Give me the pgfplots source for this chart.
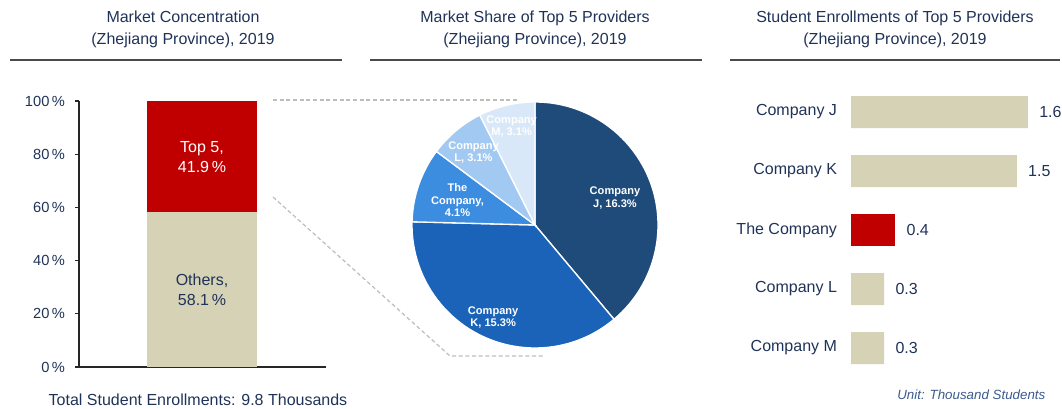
\documentclass[border=0pt]{standalone}
\usepackage{fontspec}
\setmainfont{Liberation Sans}
\usepackage{pgfplots}
\pgfplotsset{compat=1.18}
\definecolor{TxtNavy}{HTML}{1F3358}
\definecolor{RuleGray}{HTML}{4A4A4A}
\definecolor{Tan}{HTML}{D5D2B5}
\definecolor{RedC}{HTML}{C00000}
\definecolor{PieJ}{HTML}{1F4B7A}
\definecolor{PieK}{HTML}{1A63B8}
\definecolor{PieT}{HTML}{3C8DE0}
\definecolor{PieL}{HTML}{A2C9F2}
\definecolor{PieM}{HTML}{D8E8F8}
\definecolor{UnitBlue}{HTML}{3B5A8C}
\definecolor{DashGray}{HTML}{BDBDBD}

% market shares of the top 5 providers (%)
\def\sJ{16.3}
\def\sK{15.3}
\def\sT{4.1}
\def\sL{3.1}
\def\sM{3.1}

\begin{document}
\begin{tikzpicture}[x=0.75pt,y=0.75pt]
\useasboundingbox (0,0) rectangle (1062,408);
\coordinate (p1) at (79,41);
\coordinate (p2) at (535,183);
\coordinate (p3) at (851,30.5);

% titles and rules
\tikzset{ttl/.style={align=center,font=\fontsize{12}{16.5}\selectfont,text=TxtNavy}}
\node[ttl] at (183,379) {Market Concentration\\(Zhejiang Province), 2019};
\node[ttl] at (535,379) {Market Share of Top 5 Providers\\(Zhejiang Province), 2019};
\node[ttl] at (895,379) {Student Enrollments of Top 5 Providers\\(Zhejiang Province), 2019};
\draw[RuleGray,line width=1.8pt] (10,348) -- (342,348);
\draw[RuleGray,line width=1.8pt] (370,348) -- (702,348);
\draw[RuleGray,line width=1.8pt] (730,348) -- (1060,348);

% connectors
\draw[DashGray,line width=0.9pt,dash pattern=on 3pt off 2pt] (273,308) -- (517,308);
\draw[DashGray,line width=0.9pt,dash pattern=on 3pt off 2pt] (273,211) -- (450,52) -- (545,52);

% panel 1: stacked bar
\begin{axis}[name=ax1,at={(p1)},anchor=south west,scale only axis,
  width=185.25pt,height=199.5pt,
  xmin=0,xmax=247,ymin=0,ymax=100,
  axis lines=left,axis line style={-,line width=1.2pt,black!85},
  xtick=\empty,ytick={0,20,...,100},
  yticklabel={\pgfmathprintnumber{\tick}\,\%},
  tick align=outside,major tick length=3pt,
  ytick style={black!85,line width=0.8pt},
  yticklabel style={font=\fontsize{11}{13}\selectfont,text=TxtNavy,xshift=-4pt},
  /pgf/number format/assume math mode=true,
  ybar stacked,bar width=82.5pt,clip=false]
\addplot[fill=Tan,draw=none] coordinates {(123,58.1)};
\addplot[fill=RedC,draw=none] coordinates {(123,41.9)};
\end{axis}
\node[align=center,text=TxtNavy,font=\fontsize{12}{15}\selectfont] at (202,118) {Others,\\58.1\,\%};
\node[align=center,text=white,font=\fontsize{12}{15}\selectfont] at (202,251) {Top 5,\\41.9\,\%};
\node[font=\fontsize{12}{14}\selectfont,text=TxtNavy] at (198,8) {Total Student Enrollments: 9.8 Thousands};

% panel 2: pie
\pgfmathsetmacro\tot{\sJ+\sK+\sT+\sL+\sM}
\pgfmathsetmacro\aA{90}
\pgfmathsetmacro\aB{\aA-360*\sJ/\tot}
\pgfmathsetmacro\aC{\aB-360*\sK/\tot}
\pgfmathsetmacro\aD{\aC-360*\sT/\tot}
\pgfmathsetmacro\aE{\aD-360*\sL/\tot}
\pgfmathsetmacro\aF{\aE-360*\sM/\tot}
\begin{axis}[at={(p2)},anchor=center,scale only axis,
  width=184.5pt,height=184.5pt,xmin=-1,xmax=1,ymin=-1,ymax=1,
  hide axis,clip=false]
\filldraw[fill=PieJ,draw=white,line width=1pt] (axis cs:0,0) -- ++(\aA:92.25pt) arc[start angle=\aA,end angle=\aB,radius=92.25pt] -- cycle;
\filldraw[fill=PieK,draw=white,line width=1pt] (axis cs:0,0) -- ++(\aB:92.25pt) arc[start angle=\aB,end angle=\aC,radius=92.25pt] -- cycle;
\filldraw[fill=PieT,draw=white,line width=1pt] (axis cs:0,0) -- ++(\aC:92.25pt) arc[start angle=\aC,end angle=\aD,radius=92.25pt] -- cycle;
\filldraw[fill=PieL,draw=white,line width=1pt] (axis cs:0,0) -- ++(\aD:92.25pt) arc[start angle=\aD,end angle=\aE,radius=92.25pt] -- cycle;
\filldraw[fill=PieM,draw=white,line width=1pt] (axis cs:0,0) -- ++(\aE:92.25pt) arc[start angle=\aE,end angle=\aF,radius=92.25pt] -- cycle;
\tikzset{pl/.style={align=center,text=white,font=\fontsize{8.3}{9.3}\selectfont\bfseries}}
\node[pl] at (axis cs:0.65,0.22) {Company\\J, 16.3\%};
\node[pl] at (axis cs:-0.34,-0.75) {Company\\K, 15.3\%};
\node[pl] at (axis cs:-0.63,0.20) {The\\Company,\\4.1\%};
\node[pl] at (axis cs:-0.50,0.59) {Company\\L, 3.1\%};
\node[pl] at (axis cs:-0.19,0.80) {Company\\M, 3.1\%};
\end{axis}

% panel 3: horizontal bars
\begin{axis}[at={(p3)},anchor=south west,scale only axis,
  width=149.25pt,height=221.25pt,
  xmin=0,xmax=1.8,ymin=-0.5,ymax=4.5,
  xbar,bar shift=0pt,bar width=24pt,
  axis lines=left,axis line style={draw=none},
  xtick=\empty,ytick={0,1,2,3,4},
  yticklabels={Company M,Company L,The Company,Company K,Company J},
  major tick length=0pt,
  yticklabel style={font=\fontsize{12}{14}\selectfont,text=TxtNavy,xshift=-7pt},
  nodes near coords,
  every node near coord/.append style={font=\fontsize{12}{14}\selectfont,text=TxtNavy,xshift=5pt},
  /pgf/number format/.cd,fixed,fixed zerofill,precision=1,assume math mode=true,
  /pgfplots/.cd,clip=false]
\addplot[fill=Tan,draw=none] coordinates {(1.6,4) (1.5,3) (0.3,1) (0.3,0)};
\addplot[fill=RedC,draw=none] coordinates {(0.4,2)};
\end{axis}
\node[anchor=east,font=\itshape\fontsize{10}{12}\selectfont,text=UnitBlue] at (1050,13) {Unit: Thousand Students};
\end{tikzpicture}
\end{document}
